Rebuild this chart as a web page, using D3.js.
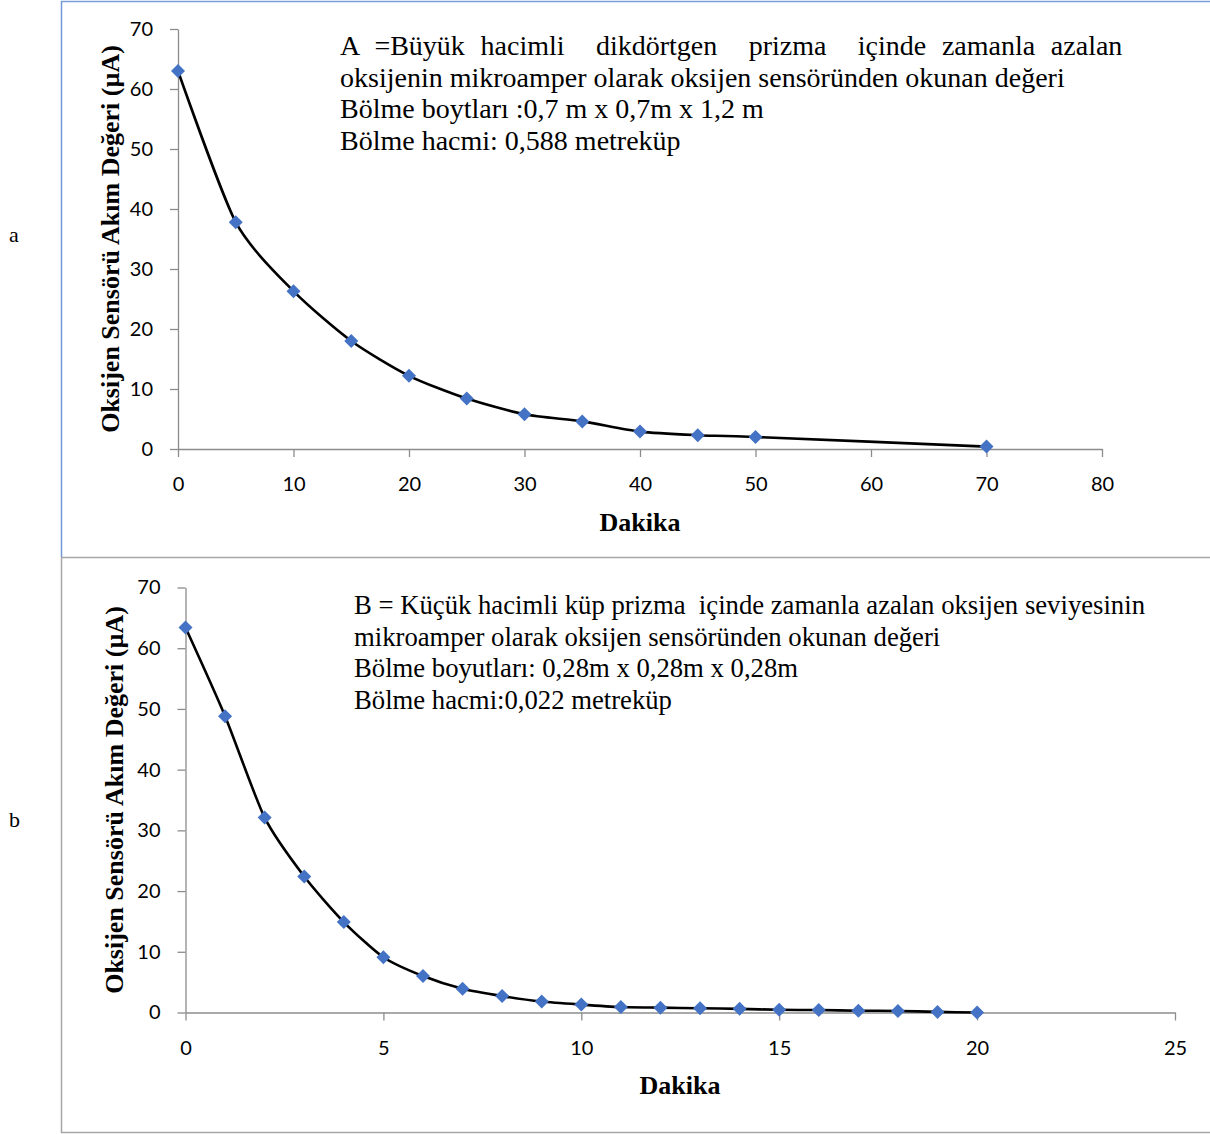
<!DOCTYPE html>
<html>
<head>
<meta charset="utf-8">
<script src="https://cdn.jsdelivr.net/npm/d3@7"></script>
<style>
  body { margin: 0; background: #fff; }
  .tick text { font-family: Lato, "Open Sans", sans-serif; font-size: 20px; fill: #000; }
  .domain, .tick line { stroke: #8c8c8c; stroke-width: 1.3; }
  .title { font-family: "Liberation Serif", "Times New Roman", serif; font-weight: bold; font-size: 26px; }
  .note { font-family: "Liberation Serif", "Times New Roman", serif; font-size: 27px; white-space: pre; }
</style>
</head>
<body>
<svg id="chart" width="1210" height="1134"></svg>
<script>
// Oksijen sensörü -- two panels

// Panel A: large rectangular prism
var minutesA = [0, 5, 10, 15, 20, 25, 30, 35, 40, 45, 50, 70];
var currentA = [63.0, 37.8, 26.3, 18.0, 12.2, 8.4, 5.8, 4.6, 2.9, 2.3, 2.0, 0.4];
var xTicksA = [0, 10, 20, 30, 40, 50, 60, 70, 80];

// Panel B: small cube
var minutesB = [0, 1, 2, 3, 4, 5, 6, 7, 8, 9, 10, 11, 12, 13, 14, 15, 16, 17, 18, 19, 20];
var currentB = [63.4, 48.8, 32.1, 22.4, 14.9, 9.1, 6.0, 3.9, 2.7, 1.8, 1.3,
                0.9, 0.8, 0.7, 0.6, 0.45, 0.4, 0.3, 0.25, 0.1, 0.0];
var xTicksB = [0, 5, 10, 15, 20, 25];

var yTicks = [0, 10, 20, 30, 40, 50, 60, 70];

var notesA = [
  "A =Büyük hacimli  dikdörtgen  prizma  içinde zamanla azalan",
  "oksijenin mikroamper olarak oksijen sensöründen okunan değeri",
  "Bölme boytları :0,7 m x 0,7m x 1,2 m",
  "Bölme hacmi: 0,588 metreküp"
];
var notesB = [
  "B = Küçük hacimli küp prizma  içinde zamanla azalan oksijen seviyesinin",
  "mikroamper olarak oksijen sensöründen okunan değeri",
  "Bölme boyutları: 0,28m x 0,28m x 0,28m",
  "Bölme hacmi:0,022 metreküp"
];

var yTitle = "Oksijen Sensörü Akım Değeri (µA)";
var xTitle = "Dakika";

var svg = d3.select("#chart");

///////////////////////////////////////////////////////////////////////////////
// Frames

svg.append("line").attr("x1", 61).attr("y1", 1.5).attr("x2", 1210).attr("y2", 1.5)
  .attr("stroke", "#7c9ed8").attr("stroke-width", 1.5);
svg.append("line").attr("x1", 61.5).attr("y1", 1).attr("x2", 61.5).attr("y2", 557)
  .attr("stroke", "#7398d8").attr("stroke-width", 1.5);
svg.append("line").attr("x1", 61).attr("y1", 557.5).attr("x2", 1210).attr("y2", 557.5)
  .attr("stroke", "#a6a6a6").attr("stroke-width", 1.5);
svg.append("line").attr("x1", 61.5).attr("y1", 557).attr("x2", 61.5).attr("y2", 1133)
  .attr("stroke", "#a6a6a6").attr("stroke-width", 1.5);
svg.append("line").attr("x1", 61).attr("y1", 1132.5).attr("x2", 1210).attr("y2", 1132.5)
  .attr("stroke", "#a6a6a6").attr("stroke-width", 1.5);

svg.append("text").attr("class", "note").attr("x", 9).attr("y", 242).style("font-size", "22px").text("a");
svg.append("text").attr("class", "note").attr("x", 9).attr("y", 827).style("font-size", "22px").text("b");

///////////////////////////////////////////////////////////////////////////////
// One panel

var drawPanel = function (opts) {
  var x = d3.scaleLinear().domain(opts.xDomain).range(opts.xRange);
  var y = d3.scaleLinear().domain([0, 70]).range(opts.yRange);
  var g = svg.append("g");

  g.append("g")
    .attr("transform", "translate(0," + opts.yRange[0] + ")")
    .call(d3.axisBottom(x).tickValues(opts.xTicks).tickSize(8).tickPadding(20).tickSizeOuter(0));
  g.append("g")
    .attr("transform", "translate(" + opts.xRange[0] + ",0)")
    .call(d3.axisLeft(y).tickValues(yTicks).tickSize(8).tickPadding(17).tickSizeOuter(0));

  var pts = opts.xs.map(function (d, i) { return [d, opts.ys[i]]; });

  var line = d3.line()
    .x(function (d) { return x(d[0]); })
    .y(function (d) { return y(d[1]); })
    .curve(d3.curveCardinal.tension(0.3));

  g.append("path").datum(pts)
    .attr("d", line)
    .attr("fill", "none")
    .attr("stroke", "#000")
    .attr("stroke-width", 2.6);

  var diamond = d3.symbol().type(d3.symbolSquare).size(98);
  g.selectAll("path.pt").data(pts).enter().append("path")
    .attr("class", "pt")
    .attr("d", diamond)
    .attr("transform", function (d) {
      return "translate(" + x(d[0]) + "," + y(d[1]) + ") rotate(45)";
    })
    .attr("fill", "#4472c4");

  // Axis titles
  var midY = (opts.yRange[0] + opts.yRange[1]) / 2;
  g.append("text").attr("class", "title")
    .attr("text-anchor", "middle")
    .attr("transform", "translate(" + opts.yTitleX + "," + midY + ") rotate(-90)")
    .text(yTitle);
  g.append("text").attr("class", "title")
    .attr("text-anchor", "middle")
    .attr("x", opts.xTitleX).attr("y", opts.xTitleY)
    .text(xTitle);

  // Description block (first line of A is justified, hence its wider word gaps)
  g.selectAll("text.note").data(opts.notes).enter().append("text")
    .attr("class", "note")
    .attr("x", opts.noteX)
    .attr("y", function (d, i) { return opts.noteY + i * 31.5; })
    .style("font-size", opts.noteSize + "px")
    .style("word-spacing", function (d, i) { return opts.wordGap[i] + "px"; })
    .text(function (d) { return d; });
};

drawPanel({
  xs: minutesA, ys: currentA, xTicks: xTicksA,
  xDomain: [0, 80], xRange: [178, 1102], yRange: [449, 29],
  yTitleX: 119, xTitleX: 640, xTitleY: 531,
  notes: notesA, noteX: 340, noteY: 55, noteSize: 28, wordGap: [8.7, 0, 0, 0]
});

drawPanel({
  xs: minutesB, ys: currentB, xTicks: xTicksB,
  xDomain: [0, 25], xRange: [185.5, 1175], yRange: [1012.5, 587.5],
  yTitleX: 123, xTitleX: 680, xTitleY: 1094,
  notes: notesB, noteX: 354, noteY: 614, noteSize: 26.7, wordGap: [0, 0, 0, 0]
});
</script>
</body>
</html>
